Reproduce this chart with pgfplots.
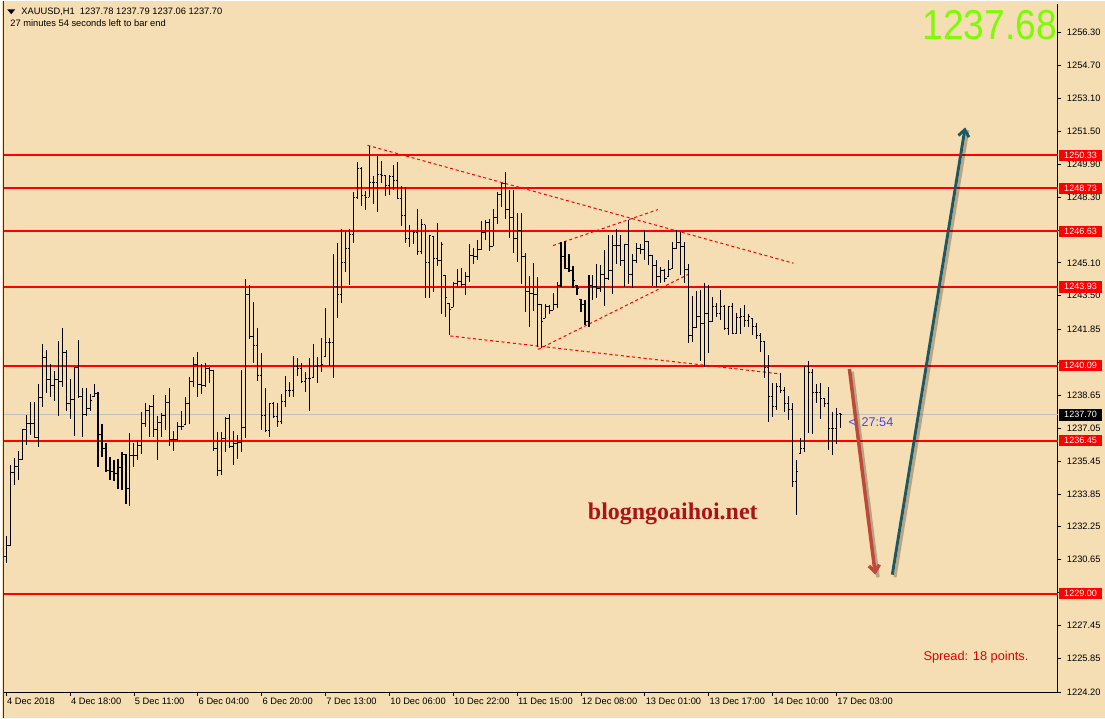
\documentclass[border=0pt]{standalone}
\usepackage{fontspec}
\setmainfont{Liberation Sans}
\newfontfamily\wmfont{Liberation Serif}
\usepackage{pgfplots}
\usepackage{pgfplotstable}
\pgfplotsset{compat=1.18}
\usetikzlibrary{arrows.meta}

\definecolor{wheatbg}{RGB}{245,222,179}
\definecolor{lvl}{RGB}{255,0,0}
\definecolor{arrred}{RGB}{192,72,58}
\definecolor{arrteal}{RGB}{30,88,100}
\definecolor{biggreen}{RGB}{124,252,0}
\definecolor{wmred}{RGB}{170,20,20}
\definecolor{cntblue}{RGB}{70,70,235}

% hourly XAUUSD bars: index, open, high, low, close
\pgfplotstableread{
x o h l c
0 1230.80 1231.78 1230.49 1231.35
1 1231.35 1235.27 1231.30 1234.91
2 1234.91 1235.59 1234.30 1235.19
3 1235.19 1235.92 1234.54 1235.51
4 1235.51 1237.02 1235.51 1236.97
5 1236.97 1237.70 1236.24 1237.29
6 1237.29 1238.34 1236.73 1237.26
7 1237.26 1238.31 1236.56 1236.61
8 1236.61 1239.20 1236.13 1238.56
9 1238.56 1241.15 1238.07 1240.50
10 1240.50 1240.85 1238.75 1239.40
11 1239.40 1240.16 1238.59 1239.11
12 1239.11 1239.85 1238.39 1239.40
13 1239.40 1241.29 1237.62 1239.32
14 1239.32 1241.91 1239.04 1240.73
15 1240.73 1240.85 1237.91 1238.26
16 1238.26 1239.43 1237.49 1238.43
17 1238.43 1240.05 1236.69 1240.01
18 1240.01 1241.34 1238.51 1238.59
19 1238.59 1239.02 1236.64 1237.70
20 1237.70 1238.99 1237.62 1238.02
21 1238.02 1238.72 1237.89 1238.39
22 1238.59 1239.20 1238.59 1238.72
23 1238.72 1238.80 1235.14 1236.73
24 1236.73 1237.26 1235.67 1236.08
25 1236.08 1236.32 1234.94 1234.98
26 1234.98 1235.67 1234.51 1234.94
27 1234.94 1235.51 1234.46 1234.83
28 1234.83 1235.54 1234.10 1235.15
29 1235.15 1235.87 1234.02 1235.75
30 1235.75 1235.80 1233.36 1234.10
31 1234.10 1236.81 1233.24 1235.70
32 1235.70 1236.32 1235.15 1235.70
33 1235.70 1236.48 1235.48 1236.19
34 1236.19 1237.86 1235.80 1237.26
35 1237.26 1238.26 1237.13 1237.89
36 1237.89 1238.18 1236.64 1238.13
37 1238.13 1238.67 1236.60 1237.00
38 1237.00 1237.62 1235.48 1237.32
39 1237.32 1237.78 1236.61 1237.66
40 1237.66 1238.67 1236.97 1238.31
41 1238.31 1239.02 1236.16 1236.51
42 1236.51 1236.89 1235.96 1236.51
43 1236.51 1237.34 1236.45 1237.13
44 1237.13 1237.89 1236.94 1237.13
45 1237.24 1238.59 1237.24 1238.23
46 1238.23 1239.56 1237.26 1239.32
47 1239.32 1240.53 1239.04 1240.17
48 1240.17 1240.77 1238.59 1239.20
49 1239.20 1240.17 1238.72 1239.15
50 1239.15 1240.24 1239.04 1239.97
51 1239.97 1240.01 1239.27 1239.85
52 1239.85 1239.85 1235.96 1236.08
53 1236.08 1236.88 1234.70 1234.97
54 1234.97 1236.84 1234.75 1236.56
55 1236.56 1237.61 1235.88 1237.50
56 1237.50 1237.74 1236.07 1236.16
57 1236.16 1236.93 1235.27 1236.32
58 1236.32 1236.72 1235.56 1236.37
59 1236.37 1239.88 1235.91 1237.08
60 1237.08 1244.30 1236.59 1243.57
61 1243.57 1244.01 1241.39 1241.50
62 1241.50 1243.20 1240.24 1241.06
63 1241.06 1241.94 1239.36 1239.61
64 1239.61 1240.72 1236.97 1237.69
65 1237.69 1238.99 1236.84 1236.92
66 1236.92 1238.29 1236.61 1238.26
67 1238.26 1238.34 1237.57 1237.61
68 1237.61 1238.29 1237.13 1237.37
69 1237.37 1238.72 1237.24 1238.37
70 1238.37 1239.61 1238.10 1238.91
71 1238.91 1239.28 1238.55 1238.91
72 1238.91 1240.58 1238.59 1240.04
73 1240.04 1240.45 1239.61 1239.96
74 1239.96 1240.21 1239.23 1239.31
75 1239.31 1239.77 1238.83 1239.48
76 1239.48 1240.48 1237.89 1239.48
77 1239.51 1241.14 1239.51 1240.04
78 1240.04 1240.53 1239.23 1240.12
79 1240.12 1241.42 1239.77 1240.16
80 1240.53 1242.88 1240.53 1241.23
81 1241.23 1241.45 1240.09 1241.23
82 1241.23 1245.55 1239.51 1243.93
83 1243.93 1246.07 1242.39 1243.56
84 1243.56 1246.76 1243.12 1245.11
85 1245.11 1246.60 1244.63 1245.79
86 1245.79 1246.76 1244.01 1246.47
87 1246.47 1248.55 1246.08 1248.27
88 1248.27 1250.00 1248.22 1249.68
89 1249.68 1249.76 1247.87 1248.38
90 1248.38 1248.58 1247.66 1248.30
91 1248.30 1250.81 1248.30 1249.03
92 1249.03 1249.32 1247.98 1249.00
93 1249.00 1250.30 1247.57 1249.40
94 1249.40 1250.04 1249.00 1249.36
95 1249.36 1249.39 1248.34 1248.87
96 1248.87 1249.39 1248.38 1249.28
97 1249.28 1249.84 1248.63 1249.11
98 1249.11 1250.00 1248.22 1248.25
99 1248.25 1248.82 1246.89 1247.41
100 1247.41 1248.79 1246.08 1246.28
101 1246.28 1246.93 1245.87 1246.65
102 1246.65 1246.72 1246.00 1246.60
103 1246.60 1247.74 1245.50 1245.63
104 1245.63 1247.25 1245.55 1246.96
105 1246.96 1246.96 1243.40 1245.10
106 1245.10 1246.47 1243.40 1246.44
107 1246.39 1246.39 1243.69 1245.30
108 1245.30 1247.04 1244.94 1245.20
109 1245.20 1246.12 1242.60 1246.00
110 1244.50 1244.50 1242.48 1243.40
111 1243.12 1243.12 1241.59 1242.83
112 1242.93 1244.17 1242.93 1244.10
113 1244.10 1244.82 1243.85 1244.17
114 1244.17 1244.85 1243.88 1244.05
115 1244.05 1244.66 1243.53 1244.45
116 1244.45 1246.04 1244.17 1245.44
117 1245.44 1245.84 1245.03 1245.39
118 1245.39 1246.20 1245.23 1245.75
119 1245.75 1247.12 1245.71 1246.56
120 1246.56 1247.17 1246.20 1247.04
121 1247.04 1247.25 1245.68 1245.91
122 1245.91 1247.71 1245.91 1247.30
123 1247.30 1248.55 1246.98 1248.44
124 1248.44 1248.99 1247.82 1248.95
125 1248.95 1249.50 1247.22 1247.71
126 1247.71 1248.63 1246.31 1247.30
127 1247.30 1248.66 1245.59 1246.28
128 1246.28 1247.54 1245.15 1246.69
129 1246.69 1247.54 1244.09 1245.42
130 1245.42 1245.59 1242.72 1243.69
131 1243.69 1244.45 1241.99 1243.61
132 1243.61 1245.07 1242.75 1243.58
133 1243.58 1244.42 1241.02 1243.09
134 1243.09 1243.09 1240.97 1242.26
135 1242.39 1243.09 1242.39 1242.96
136 1242.96 1243.07 1242.60 1242.80
137 1242.80 1243.61 1242.80 1243.09
138 1243.09 1244.17 1242.88 1244.01
139 1244.01 1246.12 1243.93 1245.39
140 1245.39 1246.15 1244.82 1244.82
141 1244.82 1245.52 1244.66 1244.75
142 1244.75 1244.94 1243.85 1244.26
143 1244.01 1244.01 1243.53 1243.85
144 1243.32 1243.32 1242.72 1243.09
145 1243.09 1243.29 1242.07 1242.23
146 1242.23 1244.50 1241.96 1244.00
147 1244.00 1244.50 1243.29 1243.93
148 1243.93 1245.04 1243.41 1243.85
149 1243.85 1244.99 1243.66 1244.53
150 1244.53 1245.71 1242.99 1244.33
151 1244.33 1246.44 1244.26 1244.74
152 1244.74 1246.44 1243.56 1245.96
153 1245.96 1246.77 1245.03 1245.96
154 1245.96 1246.44 1244.94 1245.23
155 1245.23 1246.04 1243.93 1246.00
156 1246.00 1247.17 1244.09 1244.53
157 1244.53 1245.55 1243.85 1245.23
158 1245.23 1246.07 1245.10 1245.79
159 1245.79 1246.04 1245.55 1245.75
160 1245.75 1246.72 1245.26 1246.12
161 1246.12 1246.12 1244.98 1245.47
162 1245.47 1245.50 1243.96 1244.98
163 1244.98 1245.22 1243.93 1244.45
164 1244.45 1244.90 1244.10 1244.71
165 1244.71 1244.82 1244.17 1244.33
166 1244.42 1245.22 1244.42 1244.77
167 1244.82 1246.12 1244.82 1245.79
168 1245.79 1246.72 1245.79 1246.07
169 1246.07 1246.61 1244.50 1245.90
170 1245.90 1246.12 1244.10 1244.77
171 1244.77 1245.03 1241.21 1241.58
172 1241.58 1243.48 1241.26 1241.95
173 1241.95 1243.74 1241.91 1242.50
174 1242.50 1243.80 1240.34 1242.15
175 1242.15 1244.14 1240.04 1242.63
176 1242.63 1244.01 1240.72 1242.23
177 1242.23 1243.44 1242.20 1242.96
178 1242.96 1243.12 1242.47 1242.63
179 1242.63 1243.80 1242.31 1242.99
180 1242.99 1243.07 1241.82 1241.91
181 1241.91 1242.99 1241.58 1242.96
182 1242.96 1243.12 1241.63 1241.66
183 1241.66 1242.67 1241.63 1242.44
184 1242.44 1242.88 1241.63 1242.47
185 1242.47 1243.04 1241.99 1242.31
186 1242.31 1242.63 1241.99 1242.47
187 1242.39 1242.39 1241.58 1242.02
188 1242.02 1242.15 1241.37 1241.58
189 1241.58 1241.66 1240.77 1241.26
190 1241.26 1241.29 1239.48 1240.01
191 1240.01 1240.61 1237.37 1238.59
192 1238.59 1239.23 1237.61 1238.10
193 1238.10 1239.23 1237.94 1239.07
194 1239.07 1239.75 1238.78 1238.88
195 1238.88 1239.07 1237.86 1238.26
196 1238.26 1238.62 1237.45 1237.94
197 1237.94 1238.26 1234.21 1234.46
198 1234.46 1235.48 1232.84 1234.94
199 1235.80 1236.56 1235.80 1236.07
200 1236.07 1240.08 1235.91 1240.04
201 1240.04 1240.33 1236.80 1239.75
202 1239.75 1239.91 1236.77 1238.78
203 1238.78 1239.18 1238.26 1238.78
204 1238.78 1239.27 1237.48 1238.50
205 1238.50 1238.54 1238.07 1238.26
206 1238.26 1239.04 1236.00 1237.05
207 1237.05 1237.86 1235.75 1237.05
208 1237.05 1238.02 1236.29 1237.74
209 1237.78 1237.79 1237.06 1237.70
}\bars

\tikzset{lvlbox/.style={anchor=west, xshift=0.8pt, inner xsep=1pt, inner ysep=0.8pt,
  minimum width=32pt, minimum height=8.6pt, text=white,
  font=\fontsize{6.8}{7}\selectfont},
  lvlline/.style={lvl, line width=1.5pt}}

\begin{document}
\begin{tikzpicture}
% chart background (1 px = 0.75 pt)
\fill[wheatbg] (-0.75pt,-19.5pt) rectangle (828pt,519.75pt);

\begin{axis}[
  at={(0,0)}, anchor=south west,
  scale only axis,
  width=792.75pt, height=517.5pt,
  xmin=-0.75, xmax=263.5,
  ymin=1224.20, ymax=1257.716,
  clip=false,
  axis x line*=bottom, axis y line*=right,
  axis line style={black, line width=0.75pt, -},
  tick align=outside,
  major tick length=2.6pt,
  tick style={black, line width=0.6pt},
  xtick={0,16,...,208},
  xticklabels={4 Dec 2018, 4 Dec 18:00, 5 Dec 11:00, 6 Dec 04:00, 6 Dec 20:00,
    7 Dec 13:00, 10 Dec 06:00, 10 Dec 22:00, 11 Dec 15:00, 12 Dec 08:00,
    13 Dec 01:00, 13 Dec 17:00, 14 Dec 10:00, 17 Dec 03:00},
  xticklabel style={anchor=north west, xshift=-1pt, inner sep=1.5pt,
    font=\fontsize{7}{8}\selectfont},
  ytick={1224.20,1225.85,1227.45,1229.05,1230.65,1232.25,1233.85,1235.45,
    1237.05,1238.65,1240.25,1241.85,1243.50,1245.10,1246.70,1248.30,
    1249.90,1251.50,1253.10,1254.70,1256.30},
  yticklabels={1224.20,1225.85,1227.45,{},1230.65,1232.25,1233.85,1235.45,
    1237.05,1238.65,{},1241.85,1243.50,1245.10,{},1248.30,
    1249.90,1251.50,1253.10,1254.70,1256.30},
  yticklabel style={font=\fontsize{7}{8}\selectfont, xshift=0.6pt},
]

% support / resistance levels
\addplot[lvlline] coordinates {(-0.75,1250.33) (263.5,1250.33)};
\addplot[lvlline] coordinates {(-0.75,1248.73) (263.5,1248.73)};
\addplot[lvlline] coordinates {(-0.75,1246.63) (263.5,1246.63)};
\addplot[lvlline] coordinates {(-0.75,1243.93) (263.5,1243.93)};
\addplot[lvlline] coordinates {(-0.75,1240.09) (263.5,1240.09)};
\addplot[lvlline] coordinates {(-0.75,1236.45) (263.5,1236.45)};
\addplot[lvlline] coordinates {(-0.75,1229.00) (263.5,1229.00)};
% bid line
\addplot[black!25, line width=0.75pt] coordinates {(-0.75,1237.70) (263.5,1237.70)};

% trend lines
\addplot[lvl, line width=0.75pt, dash pattern=on 2.3pt off 2pt] coordinates {(90.5,1250.82) (197.25,1245.08)};
\addplot[lvl, line width=0.75pt, dash pattern=on 2.3pt off 2pt] coordinates {(111.25,1241.54) (194,1239.69)};
\addplot[lvl, line width=0.75pt, dash pattern=on 2.3pt off 2pt] coordinates {(133.25,1240.88) (171,1244.55)};
\addplot[lvl, line width=0.75pt, dash pattern=on 2.3pt off 2pt] coordinates {(137,1245.94) (163.25,1247.69)};

% OHLC bars: high-low range, open tick left, close tick right
\addplot[draw=none, forget plot, error bars/.cd, y dir=minus, y explicit,
  error mark=none, error bar style={draw=black, solid, line width=0.8pt}]
  table[x=x, y=h, y error minus expr={\thisrow{h}-\thisrow{l}}] {\bars};
\addplot[draw=none, forget plot, error bars/.cd, x dir=minus, x fixed=0.45,
  error mark=none, error bar style={draw=black, solid, line width=0.7pt}]
  table[x=x, y=o] {\bars};
\addplot[draw=none, forget plot, error bars/.cd, x dir=plus, x fixed=0.45,
  error mark=none, error bar style={draw=black, solid, line width=0.7pt}]
  table[x=x, y=c] {\bars};

% forecast arrows (with soft shadow)
\addplot[black, opacity=0.25, line width=2.6pt, xshift=2pt, yshift=-2pt] coordinates {(211.25,1239.93) (217.75,1229.92)};
\addplot[black, opacity=0.25, line width=2.2pt, xshift=2pt, yshift=-2pt] coordinates {(222,1229.92) (240.25,1251.69)};
\addplot[arrred, line width=2.6pt, -{Straight Barb[length=5pt,width=8pt]}] coordinates {(211.25,1239.93) (217.75,1229.92)};
\addplot[arrteal, line width=2.2pt, -{Straight Barb[length=5pt,width=8pt]}] coordinates {(222,1229.92) (240.25,1251.69)};

% price labels on the scale
\node[lvlbox, fill=lvl] at (axis cs:263.5,1250.33) {1250.33};
\node[lvlbox, fill=lvl] at (axis cs:263.5,1248.73) {1248.73};
\node[lvlbox, fill=lvl] at (axis cs:263.5,1246.63) {1246.63};
\node[lvlbox, fill=lvl] at (axis cs:263.5,1243.93) {1243.93};
\node[lvlbox, fill=lvl] at (axis cs:263.5,1240.09) {1240.09};
\node[lvlbox, fill=lvl] at (axis cs:263.5,1236.45) {1236.45};
\node[lvlbox, fill=lvl] at (axis cs:263.5,1229.00) {1229.00};
\node[lvlbox, fill=black] at (axis cs:263.5,1237.70) {1237.70};

% countdown to bar end
\node[anchor=west, text=cntblue, font=\fontsize{9.5}{10}\selectfont, inner sep=0pt]
  at (axis cs:211,1237.35) {<\ \,27:54};
\end{axis}

% left window edge
\draw[black!80, line width=1pt] (0,-19.5pt) -- (0,519.75pt);

% header
\fill[black] (3pt,513.2pt) -- (9pt,513.2pt) -- (6pt,509.6pt) -- cycle;
\node[anchor=west, inner sep=0pt, font=\fontsize{7}{8}\selectfont] at (13.5pt,511.5pt)
  {XAUUSD,H1\ \ 1237.78 1237.79 1237.06 1237.70};
\node[anchor=west, inner sep=0pt, font=\fontsize{7}{8}\selectfont] at (5.25pt,502.5pt)
  {27 minutes 54 seconds left to bar end};

% big last price
\node[anchor=east, inner sep=0pt, text=biggreen, font=\fontsize{30}{30}\selectfont]
  at (792pt,501.5pt) {\scalebox{0.93}[1.05]{1237.68}};

% watermark
\node[text=wmred, font=\wmfont\bfseries\fontsize{18}{18}\selectfont]
  at (503.25pt,134.25pt) {blogngoaihoi.net};

% spread
\node[anchor=west, inner sep=0pt, text=lvl!90!black, font=\fontsize{9.6}{10}\selectfont]
  at (691.5pt,26.25pt) {Spread: 18 points.};
\end{tikzpicture}
\end{document}
